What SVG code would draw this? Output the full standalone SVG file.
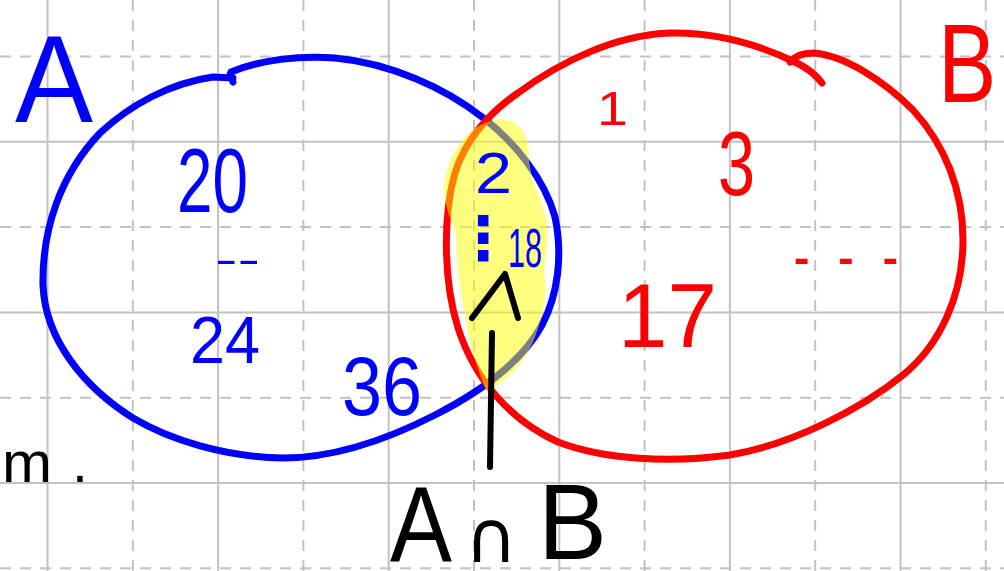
<svg xmlns="http://www.w3.org/2000/svg" width="1004" height="571" viewBox="0 0 1004 571">
<style>
.g{stroke:#c2c2c2;stroke-width:2;fill:none}
.gd{stroke:#c2c2c2;stroke-width:2;fill:none;stroke-dasharray:11 9}
.set{fill:none;stroke-width:7;stroke-linecap:round;stroke-linejoin:round}
.t{font-family:"Liberation Sans",Arial,sans-serif;font-weight:normal}
.blue{fill:#0000ff}
.red{fill:#ff0000}
.blk{fill:#000}
</style>
<rect width="1004" height="571" fill="#fff"/>
<g id="grid">
<path class="g" d="M47.5,0V571M218.1,0V571M388.7,0V571M559.3,0V571M729.9,0V571M900.5,0V571M0,141.8H1004M0,312.4H1004M0,483H1004"/>
<path class="gd" d="M132.8,0V571M303.4,0V571M474,0V571M644.6,0V571M815.2,0V571M985.8,0V571M0,56.5H1004M0,227.1H1004M0,397.7H1004M0,568.3H1004"/>
</g>
<g id="setA">
<path class="set" stroke="#0000ff" d="M233,82 C231,78 229,75 231,72 C260,60 300,55 335,58 C390,63 445,88 482,117 C515,142 545,180 555,217 C563,255 558,295 542,325 C522,362 480,392 435,415 C390,438 335,458 283,458 C225,457 170,440 133,418 C85,388 45,340 43,285 C42,230 60,175 100,133 C130,105 170,83 213,77 L233,78"/>
</g>
<g id="setB">
<path class="set" stroke="#ff0000" d="M790,62 C795,56 803,53 813,53 C845,55 885,82 913,110 C945,145 963,190 963,240 C963,295 940,345 903,375 C860,410 790,445 730,455 C670,463 605,460 558,442 C510,420 475,380 458,328 C443,280 443,215 455,173 C465,140 490,112 518,93 C560,62 615,35 670,33 C715,32 760,45 797,63 C807,68 816,75 822,83"/>
</g>
<g id="highlight">
<path fill="#ffff00" fill-opacity="0.5" d="M488,122 C502,116 521,121 526,138 C530,150 528,160 531,172 C534,190 545,205 547,225 C550,245 542,260 545,280 C547,300 540,330 528,352 C518,370 500,385 487,392 C478,372 470,345 466,320 C460,295 457,265 456,235 C452,220 443,205 444,185 C446,160 465,128 488,122 Z"/>
</g>
<g id="labelA">
<text class="t blue" x="15" y="122" font-size="124" textLength="78" lengthAdjust="spacingAndGlyphs">A</text>
</g>
<g id="labelB">
<text class="t red" transform="translate(938,102) scale(0.78,1)" font-size="112">B</text>
</g>
<g id="elementsA">
<text class="t blue" x="177" y="212" font-size="90" textLength="71" lengthAdjust="spacingAndGlyphs">20</text>
<text class="t blue" x="215" y="273" font-size="40" textLength="45" lengthAdjust="spacingAndGlyphs">--</text>
<text class="t blue" x="190" y="363" font-size="67" textLength="70" lengthAdjust="spacingAndGlyphs">24</text>
<text class="t blue" x="342" y="415" font-size="84" textLength="80" lengthAdjust="spacingAndGlyphs">36</text>
</g>
<g id="elementsAB">
<text class="t blue" x="475" y="193" font-size="57" textLength="37" lengthAdjust="spacingAndGlyphs">2</text>
<text class="blue" x="453" y="259" font-size="60" font-weight="bold" font-family="DejaVu Sans, sans-serif">⋮</text>
<text class="t blue" x="508" y="267" font-size="55" textLength="34" lengthAdjust="spacingAndGlyphs">18</text>
</g>
<g id="elementsB">
<text class="t red" x="597" y="125" font-size="49" textLength="31" lengthAdjust="spacingAndGlyphs">1</text>
<text class="t red" x="718" y="195" font-size="90" textLength="37" lengthAdjust="spacingAndGlyphs">3</text>
<text class="t red" x="618" y="347" font-size="90" textLength="99" lengthAdjust="spacingAndGlyphs">17</text>
<text class="t red" x="795" y="272" font-size="40" stroke="#ff0000" stroke-width="2" textLength="102" lengthAdjust="spacing">- - -</text>
</g>
<g id="note">
<text class="t blk" x="2" y="482" font-size="57" textLength="50" lengthAdjust="spacingAndGlyphs">m</text>
<text class="t blk" x="72" y="482" font-size="57">.</text>
</g>
<g id="labelAB">
<text class="t blk" x="390" y="562" font-size="107" textLength="62" lengthAdjust="spacingAndGlyphs">A</text>
<text class="blk" x="465" y="562" font-size="72" font-family="DejaVu Sans, sans-serif">∩</text>
<text class="t blk" x="538" y="559" font-size="107" textLength="69" lengthAdjust="spacingAndGlyphs">B</text>
</g>
<g id="connectors">
<path fill="none" stroke="#000" stroke-width="6" stroke-linecap="round" stroke-linejoin="round" d="M492,333 L490,467 M472,318 L505,274 L518,318"/>
</g>
</svg>
